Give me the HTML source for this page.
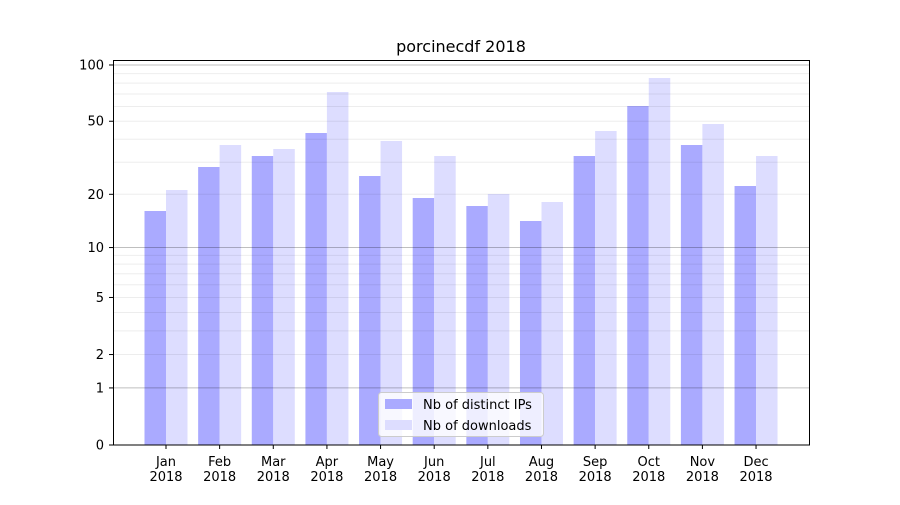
<!DOCTYPE html>
<html><head><meta charset="utf-8"><style>body{margin:0;background:#fff}</style></head><body>
<svg width="900" height="500" xmlns="http://www.w3.org/2000/svg" font-family="DejaVu Sans, Liberation Sans, sans-serif">
<rect width="900" height="500" fill="#fff"/>
<text x="461" y="52" font-size="16" text-anchor="middle">porcinecdf 2018</text>
<g id="bars"></g>
<g id="grid"></g>
<rect x="113.5" y="60.5" width="696" height="384.5" fill="none" stroke="#000" stroke-width="1"/>
<g id="ticks" font-size="13"></g>
<g>
<rect x="378.5" y="392.5" width="165" height="44" rx="3" fill="#fff" fill-opacity="0.8" stroke="#ccc"/>
<rect x="385" y="399" width="27" height="10" fill="#aaaaff"/>
<rect x="385" y="420" width="27" height="10" fill="#ddddff"/>
<text x="423" y="409" font-size="13">Nb of distinct IPs</text>
<text x="423" y="430" font-size="13">Nb of downloads</text>
</g>
</svg>
<script>
const ns="http://www.w3.org/2000/svg";
function el(p,t,a,txt){const e=document.createElementNS(ns,t);for(const k in a)e.setAttribute(k,a[k]);if(txt!==undefined)e.textContent=txt;document.getElementById(p).appendChild(e);return e;}
const Y=v=>445-189.6*Math.log10(1+v);
const tops=[[211,190],[167,145],[156,149],[133,92],[176,141],[198,156],[206,194],[221,202],[156,131],[106,78],[145,124],[186,156]];
const m=["Jan","Feb","Mar","Apr","May","Jun","Jul","Aug","Sep","Oct","Nov","Dec"];
tops.forEach((t,i)=>{const c=166+i*53.64;
el("bars","rect",{x:c-21.5,y:t[0],width:21.5,height:445-t[0],fill:"#aaaaff"});
el("bars","rect",{x:c,y:t[1],width:21.5,height:445-t[1],fill:"#ddddff"});
el("ticks","line",{x1:c,x2:c,y1:445,y2:449,stroke:"#000"});
el("ticks","text",{x:c,y:466,"text-anchor":"middle"},m[i]);
el("ticks","text",{x:c,y:481,"text-anchor":"middle"},"2018");
});
[2,3,4,5,6,7,8,9,20,30,40,50,60,70,80,90].forEach(v=>{const y=Y(v);el("grid","line",{x1:113,x2:810,y1:y,y2:y,stroke:"#000","stroke-opacity":0.07,"stroke-width":1});});
[1,10,100].forEach(v=>{const y=Y(v);el("grid","line",{x1:113,x2:810,y1:y,y2:y,stroke:"#000","stroke-opacity":0.25,"stroke-width":1});});
[0,1,2,5,10,20,50,100].forEach(v=>{const y=Y(v);el("ticks","line",{x1:109,x2:113,y1:y,y2:y,stroke:"#000"});el("ticks","text",{x:104,y:y+4.5,"text-anchor":"end"},v);});
</script>
</body></html>
